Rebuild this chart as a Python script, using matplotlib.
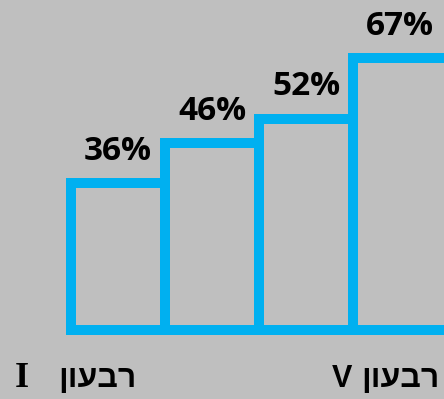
import numpy as np
import matplotlib.pyplot as plt

# ערכים לכל רבעון
quarters = [0, 1, 2, 3]
values = [36, 46, 52, 67]
labels_pct = [f"{v}%" for v in values]
left_label = "רבעון"
roman_left = "I"
roman_right = "V"

bg = "#bfbfbf"
blue = "#00b0f0"

fig = plt.figure(figsize=(4.44, 3.99), dpi=100, facecolor=bg)
ax = fig.add_axes([0, 0, 1, 1], facecolor=bg)

ax.bar(quarters, values, width=1.0, facecolor="none", edgecolor=blue,
       linewidth=7.2, joinstyle="miter")

for x, v, t in zip(quarters, values, labels_pct):
    ax.text(x, v + 5.7, t, ha="center", va="baseline", fontsize=24,
            fontweight="bold", family="Open Sans", color="black")

ax.set_xlim(-1.255, 3.468)
ax.set_ylim(-17.1, 81.2)
ax.axis("off")

# תוויות תחתונות (היפוך סדר לתצוגה מימין לשמאל)
heb = left_label[::-1]
hfam = ["Liberation Sans", "DejaVu Sans"]
yb = 1 - 387 / 399
fig.text(15 / 444, yb, roman_left, ha="left", va="baseline",
         fontsize=26, fontweight="bold", family="Liberation Serif")
fig.text(58 / 444, yb, heb, ha="left", va="baseline",
         fontsize=23, fontweight="bold", family=hfam)
fig.text(332 / 444, yb, roman_right, ha="left", va="baseline",
         fontsize=22, fontweight="bold", family=hfam)
fig.text(361 / 444, yb, heb, ha="left", va="baseline",
         fontsize=23, fontweight="bold", family=hfam)

fig.savefig("out.png", dpi=100, facecolor=bg)
